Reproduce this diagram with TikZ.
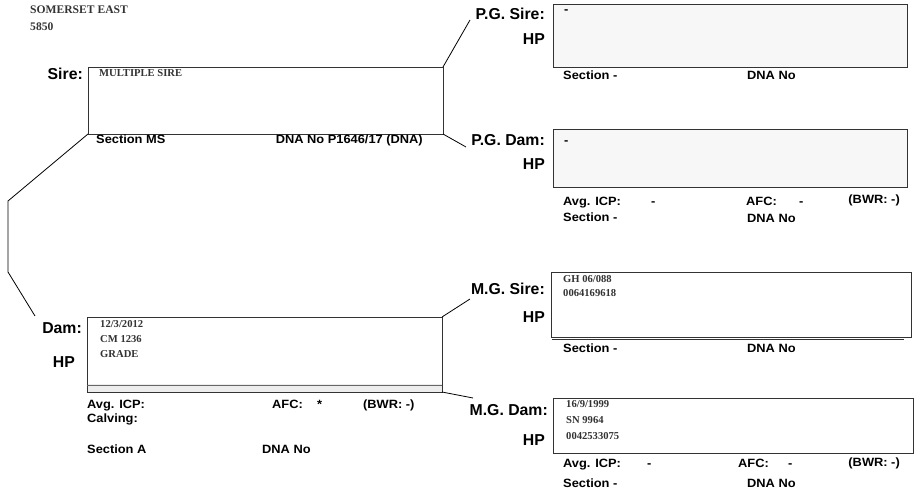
\documentclass[tikz,border=0pt]{standalone}
\usepackage{fontspec}
\setmainfont{Liberation Sans}
\newfontfamily\serf{Liberation Serif}
\newfontfamily\widesans[FakeStretch=1.07]{Liberation Sans}
\begin{document}
\begin{tikzpicture}[x=1pt,y=-1pt,
  box/.style={draw=black!80, line width=0.9pt, inner sep=0pt, outer sep=0pt, anchor=north west},
  conn/.style={draw=black, line width=0.8pt},
  lbl/.style={anchor=base east, inner sep=0pt, font=\fontsize{15.8}{17}\selectfont\bfseries},
  info/.style={anchor=base west, inner sep=0pt, font=\fontsize{12}{14}\selectfont\widesans\bfseries},
  infor/.style={anchor=base east, inner sep=0pt, font=\fontsize{12}{14}\selectfont\widesans\bfseries},
  ser/.style={anchor=base west, inner sep=0pt, text=black!80, font=\fontsize{10.6}{12}\selectfont\serf\bfseries},
  head/.style={anchor=base west, inner sep=0pt, text=black!80, font=\fontsize{11.6}{13}\selectfont\serf\bfseries}
]
\useasboundingbox (0,0) rectangle (914,489);

% header
\node[head] (h1) at (30,14) {SOMERSET EAST};
\node[head] (h2) at (30,31) {5850};

% boxes
\node[box, fill=white, minimum width=355pt, minimum height=67pt] (sire) at (88,67) {};
\node[box, fill=black!3, minimum width=354pt, minimum height=63pt] (pgs) at (553,4) {};
\node[box, fill=black!3, minimum width=354pt, minimum height=58pt] (pgd) at (553,129) {};
\node[box, fill=black!7, minimum width=355pt, minimum height=75pt] (dam) at (87,317) {};
\node[box, fill=white, draw=none, minimum width=354pt, minimum height=67pt] (damin) at (87.5,317.5) {};
\draw[black!80, line width=0.9pt] (dam.north west) rectangle (dam.south east);
\coordinate (dsl) at (87,385);
\coordinate (dsr) at (442,385);
\draw[black!60, line width=0.8pt] (dsl) -- (dsr);
\node[box, fill=white, minimum width=360pt, minimum height=65pt] (mgs) at (551,272) {};
\coordinate (mgsl) at (552,339);
\coordinate (mgsr) at (904,339);
\draw[black!80, line width=0.9pt] (mgsl) -- (mgsr);
\node[box, fill=white, minimum width=360pt, minimum height=55pt] (mgd) at (553,398) {};

% connectors
\coordinate (cpgs) at (470,20);
\coordinate (cpgd) at (466,147);
\coordinate (k1) at (8,201);
\coordinate (k2) at (8,272);
\coordinate (cdam) at (35,316);
\coordinate (cmgs) at (470,299);
\coordinate (cmgd) at (473,398);
\draw[conn] (sire.north east) -- (cpgs);
\draw[conn] (sire.south east) -- (cpgd);
\draw[conn] (sire.south west) -- (k1) -- (k2) -- (cdam);
\draw[conn] (dam.north east) -- (cmgs);
\draw[conn] (dam.south east) -- (cmgd);

% Sire
\node[lbl] (lsire) at (83,80) {Sire:};
\node[ser] (tsire) at (99,77) {MULTIPLE SIRE};
\node[info] (ssec) at (96,144) {Section MS};
\node[infor] (sdna) at (423,144) {DNA No P1646/17 (DNA)};

% P.G. Sire
\node[lbl] (lpgs) at (545,20) {P.G. Sire:};
\node[lbl] (lpgshp) at (545,45) {HP};
\node[info] (pgsdash) at (564,14) {-};
\node[info] (pgssec) at (563,80) {Section -};
\node[info] (pgsdna) at (747,80) {DNA No};

% P.G. Dam
\node[lbl] (lpgd) at (545,146) {P.G. Dam:};
\node[lbl] (lpgdhp) at (545,170) {HP};
\node[info] (pgddash) at (564,145) {-};
\node[info] (pgdicp) at (563,206) {Avg. ICP:};
\node[info] (pgdicpv) at (651,206) {-};
\node[info] (pgdafc) at (746,206) {AFC:};
\node[info] (pgdafcv) at (799,206) {-};
\node[infor] (pgdbwr) at (900,204) {(BWR: -)};
\node[info] (pgdsec) at (563,222) {Section -};
\node[info] (pgddna) at (747,223) {DNA No};

% Dam
\node[lbl] (ldam) at (82,334) {Dam:};
\node[lbl] (ldamhp) at (75,368) {HP};
\node[ser] (d1) at (100,328) {12/3/2012};
\node[ser] (d2) at (100,343) {CM 1236};
\node[ser] (d3) at (100,358) {GRADE};
\node[info] (dicp) at (87,409) {Avg. ICP:};
\node[info] (dafc) at (272,409) {AFC:};
\node[info] (dafcv) at (317,409) {*};
\node[info] (dbwr) at (363,409) {(BWR: -)};
\node[info] (dcalv) at (87,422) {Calving:};
\node[info] (dsec) at (87,453) {Section A};
\node[info] (ddna) at (262,453) {DNA No};

% M.G. Sire
\node[lbl] (lmgs) at (545,295) {M.G. Sire:};
\node[lbl] (lmgshp) at (545,323) {HP};
\node[ser] (m1) at (563,283) {GH 06/088};
\node[ser] (m2) at (563,297) {0064169618};
\node[info] (mgssec) at (563,353) {Section -};
\node[info] (mgsdna) at (747,353) {DNA No};

% M.G. Dam
\node[lbl] (lmgd) at (548,415) {M.G. Dam:};
\node[lbl] (lmgdhp) at (545,445) {HP};
\node[ser] (g1) at (566,407) {16/9/1999};
\node[ser] (g2) at (566,424) {SN 9964};
\node[ser] (g3) at (566,439) {0042533075};
\node[info] (mgdicp) at (563,467) {Avg. ICP:};
\node[info] (mgdicpv) at (647,467) {-};
\node[info] (mgdafc) at (738,467) {AFC:};
\node[info] (mgdafcv) at (788,467) {-};
\node[infor] (mgdbwr) at (900,466) {(BWR: -)};
\node[info] (mgdsec) at (563,487) {Section -};
\node[info] (mgddna) at (747,487) {DNA No};
\end{tikzpicture}
\end{document}
